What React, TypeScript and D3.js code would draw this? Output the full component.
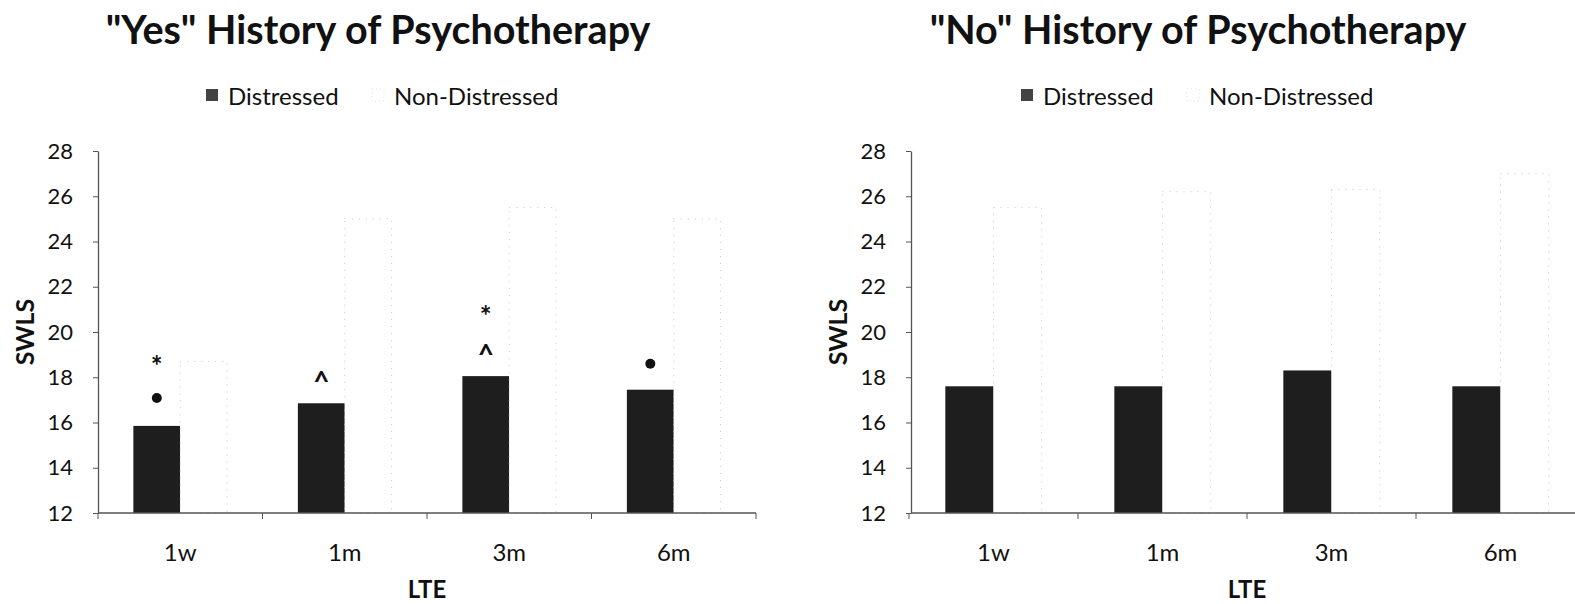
import * as d3 from "d3";
import { useRef, useEffect } from "react";

// LTE time points and the two groups
const categories = ["1w", "1m", "3m", "6m"];
const seriesNames = ["Distressed", "Non-Distressed"];
const yTicks = [12, 14, 16, 18, 20, 22, 24, 26, 28];

// "Yes" history of psychotherapy
const yesDistressed = [15.85, 16.85, 18.05, 17.45];
const yesNonDistressed = [18.7, 25.0, 25.5, 25.0];
// significance marks above the distressed bars (symbol, height in SWLS units)
const yesMarkCats = ["1w", "1w", "1m", "3m", "3m", "6m"];
const yesMarkSymbols = ["*", "●", "^", "*", "^", "●"];
const yesMarkValues = [18.8, 17.08, 18.2, 21.0, 19.4, 18.6];

// "No" history of psychotherapy
const noDistressed = [17.6, 17.6, 18.3, 17.6];
const noNonDistressed = [25.5, 26.2, 26.3, 27.0];

const WIDTH = 1575;
const HEIGHT = 604;
const FONT = "Lato, 'Open Sans', sans-serif";
const DARK = "#1e1e1e";

function Panel({ title, titleX, legendX, axisX, xRange, distressed, nonDistressed, markCats, markSymbols, markValues }) {
  const yAxisRef = useRef(null);

  const y = d3.scaleLinear().domain([12, 28]).range([513, 151]);
  const x = d3.scaleBand().domain(categories).range(xRange).padding(0);
  const groupW = x.bandwidth() * 0.57;
  const x1 = d3.scaleBand().domain(seriesNames).range([0, groupW]).padding(0);
  const groupStart = (c) => x(c) + (x.bandwidth() - groupW) / 2;

  useEffect(() => {
    const g = d3.select(yAxisRef.current);
    g.selectAll("*").remove();
    g.call(d3.axisLeft(y).tickValues(yTicks).tickSize(5).tickSizeOuter(0).tickPadding(20));
    g.attr("font-size", 22).attr("font-family", FONT);
    g.select(".domain").attr("stroke", "#555").attr("stroke-width", 1.3);
    g.selectAll(".tick line").attr("stroke", "#555");
    g.selectAll(".tick text").attr("fill", "#111");
  }, []);

  const boundaries = categories.map((c) => x(c)).concat([xRange[1]]);

  return (
    <g>
      <text x={titleX} y={44} textAnchor="middle" fontFamily={FONT} fontWeight="bold" fontSize={39.5} fill="#111">
        {title}
      </text>

      {/* legend */}
      <rect x={legendX} y={89} width={12} height={12} fill="#444" />
      <text x={legendX + 22} y={95} dominantBaseline="central" fontFamily={FONT} fontSize={24} fill="#111">
        {seriesNames[0]}
      </text>
      <rect x={legendX + 166} y={89} width={12} height={12} fill="#fff" stroke="#ddd" strokeDasharray="1 3" />
      <text x={legendX + 188} y={95} dominantBaseline="central" fontFamily={FONT} fontSize={24} fill="#111">
        {seriesNames[1]}
      </text>

      {/* bars */}
      {categories.map((c, i) => (
        <g key={c}>
          <rect
            x={groupStart(c) + x1(seriesNames[0])}
            y={y(distressed[i])}
            width={x1.bandwidth()}
            height={y(12) - y(distressed[i])}
            fill={DARK}
          />
          <rect
            x={groupStart(c) + x1(seriesNames[1])}
            y={y(nonDistressed[i])}
            width={x1.bandwidth()}
            height={y(12) - y(nonDistressed[i])}
            fill="#fff"
            stroke="#c4c4c4"
            strokeWidth={1}
            strokeDasharray="1 6"
          />
        </g>
      ))}

      {/* significance marks */}
      {markCats.map((c, i) => {
        const cx = groupStart(c) + x1(seriesNames[0]) + x1.bandwidth() / 2;
        const cy = y(markValues[i]);
        if (markSymbols[i] === "●") return <circle key={i} cx={cx} cy={cy} r={5} fill="#111" />;
        return (
          <text key={i} x={cx} y={cy} dy={markSymbols[i] === "*" ? "0.6em" : "0.68em"} textAnchor="middle" fontFamily={FONT} fontWeight="bold" fontSize={28} fill="#111">
            {markSymbols[i]}
          </text>
        );
      })}

      {/* x axis */}
      <line x1={axisX} x2={xRange[1]} y1={y(12)} y2={y(12)} stroke="#555" strokeWidth={1.3} />
      {boundaries.map((b, i) => (
        <line key={i} x1={b} x2={b} y1={y(12)} y2={y(12) + 6} stroke="#555" />
      ))}
      {categories.map((c) => (
        <text key={c} x={x(c) + x.bandwidth() / 2} y={551} dominantBaseline="central" textAnchor="middle" fontFamily={FONT} fontSize={24} fill="#111">
          {c}
        </text>
      ))}
      <text x={x(categories[0]) + x.bandwidth() * 2} y={588} dominantBaseline="central" textAnchor="middle" fontFamily={FONT} fontWeight="bold" fontSize={24} fill="#111">
        LTE
      </text>

      {/* y axis */}
      <g ref={yAxisRef} transform={`translate(${axisX},0)`} />
      <text
        transform={`translate(${axisX - 74},${y(20)}) rotate(-90)`}
        textAnchor="middle"
        dominantBaseline="central"
        fontFamily={FONT}
        fontWeight="bold"
        fontSize={25}
        fill="#111"
      >
        SWLS
      </text>
    </g>
  );
}

export default function App() {
  return (
    <svg width={WIDTH} height={HEIGHT} style={{ position: "absolute", left: 0, top: 0, background: "#fff" }}>
      <Panel
        title={'"Yes" History of Psychotherapy'}
        titleX={378}
        legendX={206}
        axisX={98}
        xRange={[98, 756]}
        distressed={yesDistressed}
        nonDistressed={yesNonDistressed}
        markCats={yesMarkCats}
        markSymbols={yesMarkSymbols}
        markValues={yesMarkValues}
      />
      <Panel
        title={'"No" History of Psychotherapy'}
        titleX={1198}
        legendX={1021}
        axisX={911}
        xRange={[909, 1585]}
        distressed={noDistressed}
        nonDistressed={noNonDistressed}
        markCats={[]}
        markSymbols={[]}
        markValues={[]}
      />
    </svg>
  );
}
